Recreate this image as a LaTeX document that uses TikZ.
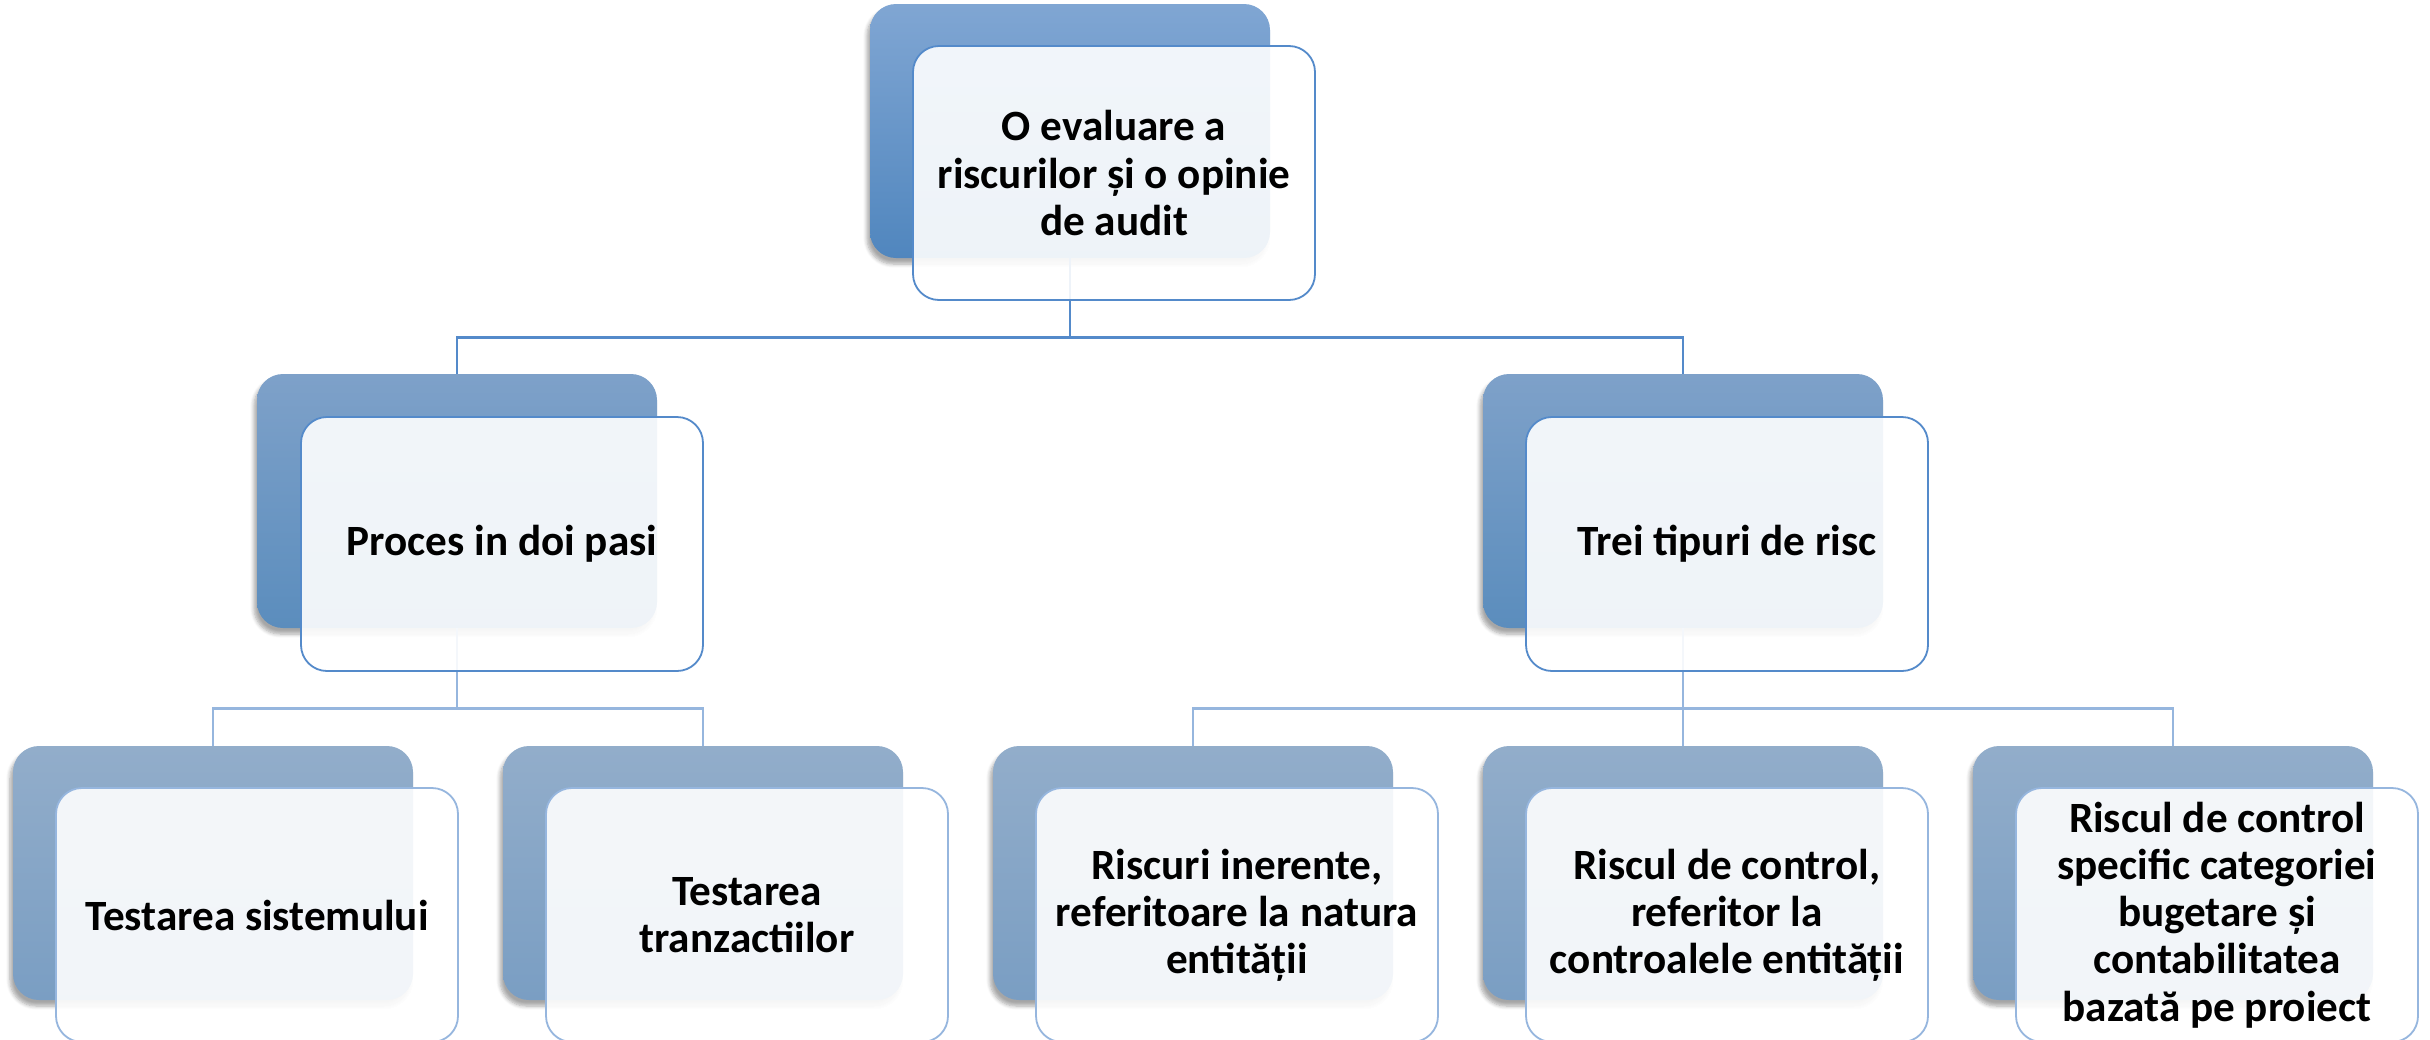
\documentclass[tikz,border=0pt]{standalone}
\usepackage{fontspec}
\setmainfont{Carlito}
\usepackage{tikz}
\usetikzlibrary{shadows.blur}

\definecolor{topA}{RGB}{128,166,211}
\definecolor{botA}{RGB}{80,134,190}
\definecolor{topB}{RGB}{126,161,201}
\definecolor{botB}{RGB}{91,141,189}
\definecolor{topC}{RGB}{146,173,202}
\definecolor{botC}{RGB}{122,158,195}
\definecolor{lineA}{RGB}{84,138,202}
\definecolor{lineC}{RGB}{150,182,222}

\begin{document}
\begin{tikzpicture}[x=0.5pt, y=-0.5pt,
    back/.style={rounded corners=13pt, minimum width=200pt, minimum height=127pt,
      blur shadow={shadow xshift=-1.5pt, shadow yshift=-3pt, shadow blur steps=6, shadow opacity=35}},
    back0/.style={back, top color=topA, bottom color=botA},
    back1/.style={back, top color=topB, bottom color=botB},
    back2/.style={back, top color=topC, bottom color=botC},
    front/.style={rounded corners=13pt, minimum width=201pt, minimum height=127pt,
      fill=white, fill opacity=0.9, text opacity=1, line width=0.9pt, align=center,
      font=\bfseries\fontsize{21.6}{23.6}\selectfont},
    front0/.style={front, draw=lineA},
    front2/.style={front, draw=lineC},
    link/.style={draw=lineA, line width=1.3pt},
    sublink/.style={draw=lineC, line width=1.1pt}]
  \useasboundingbox (0,0) rectangle (2430,1039);

  % back boxes
  \node[back0] (s0) at (1070, 131) {};
  \node[back1] (s1) at (457, 501) {};
  \node[back1] (s2) at (1683, 501) {};
  \node[back2] (s3) at (213, 873) {};
  \node[back2] (s4) at (703, 873) {};
  \node[back2] (s5) at (1193, 873) {};
  \node[back2] (s6) at (1683, 873) {};
  \node[back2] (s7) at (2173, 873) {};

  % connectors
  \path[link] (s0.south) -- ++(0,79) -| (s1.north)
    (s0.south) -- ++(0,79) -| (s2.north);
  \path[sublink] (s1.south) -- ++(0,80) -| (s3.north)
    (s1.south) -- ++(0,80) -| (s4.north)
    (s2.south) -- ++(0,80) -| (s5.north)
    (s2.south) -- ++(0,80) -| (s6.north)
    (s2.south) -- ++(0,80) -| (s7.north);

  % front boxes
  \node[front0] (n0) at (1114, 173) {O evaluare a\\riscurilor și o opinie\\de audit};
  \node[front0] (n1) at (502, 544) {Proces in doi pasi};
  \node[front0] (n2) at (1727, 544) {Trei tipuri de risc};
  \node[front2] (n3) at (257, 915) {Testarea sistemului};
  \node[front2] (n4) at (747, 915) {Testarea\\tranzactiilor};
  \node[front2] (n5) at (1237, 915) {Riscuri inerente,\\referitoare la natura\\entității};
  \node[front2] (n6) at (1727, 915) {Riscul de control,\\referitor la\\controalele entității};
  \node[front2] (n7) at (2217, 915) {Riscul de control\\specific categoriei\\bugetare și\\contabilitatea\\bazată pe proiect};
\end{tikzpicture}
\end{document}
